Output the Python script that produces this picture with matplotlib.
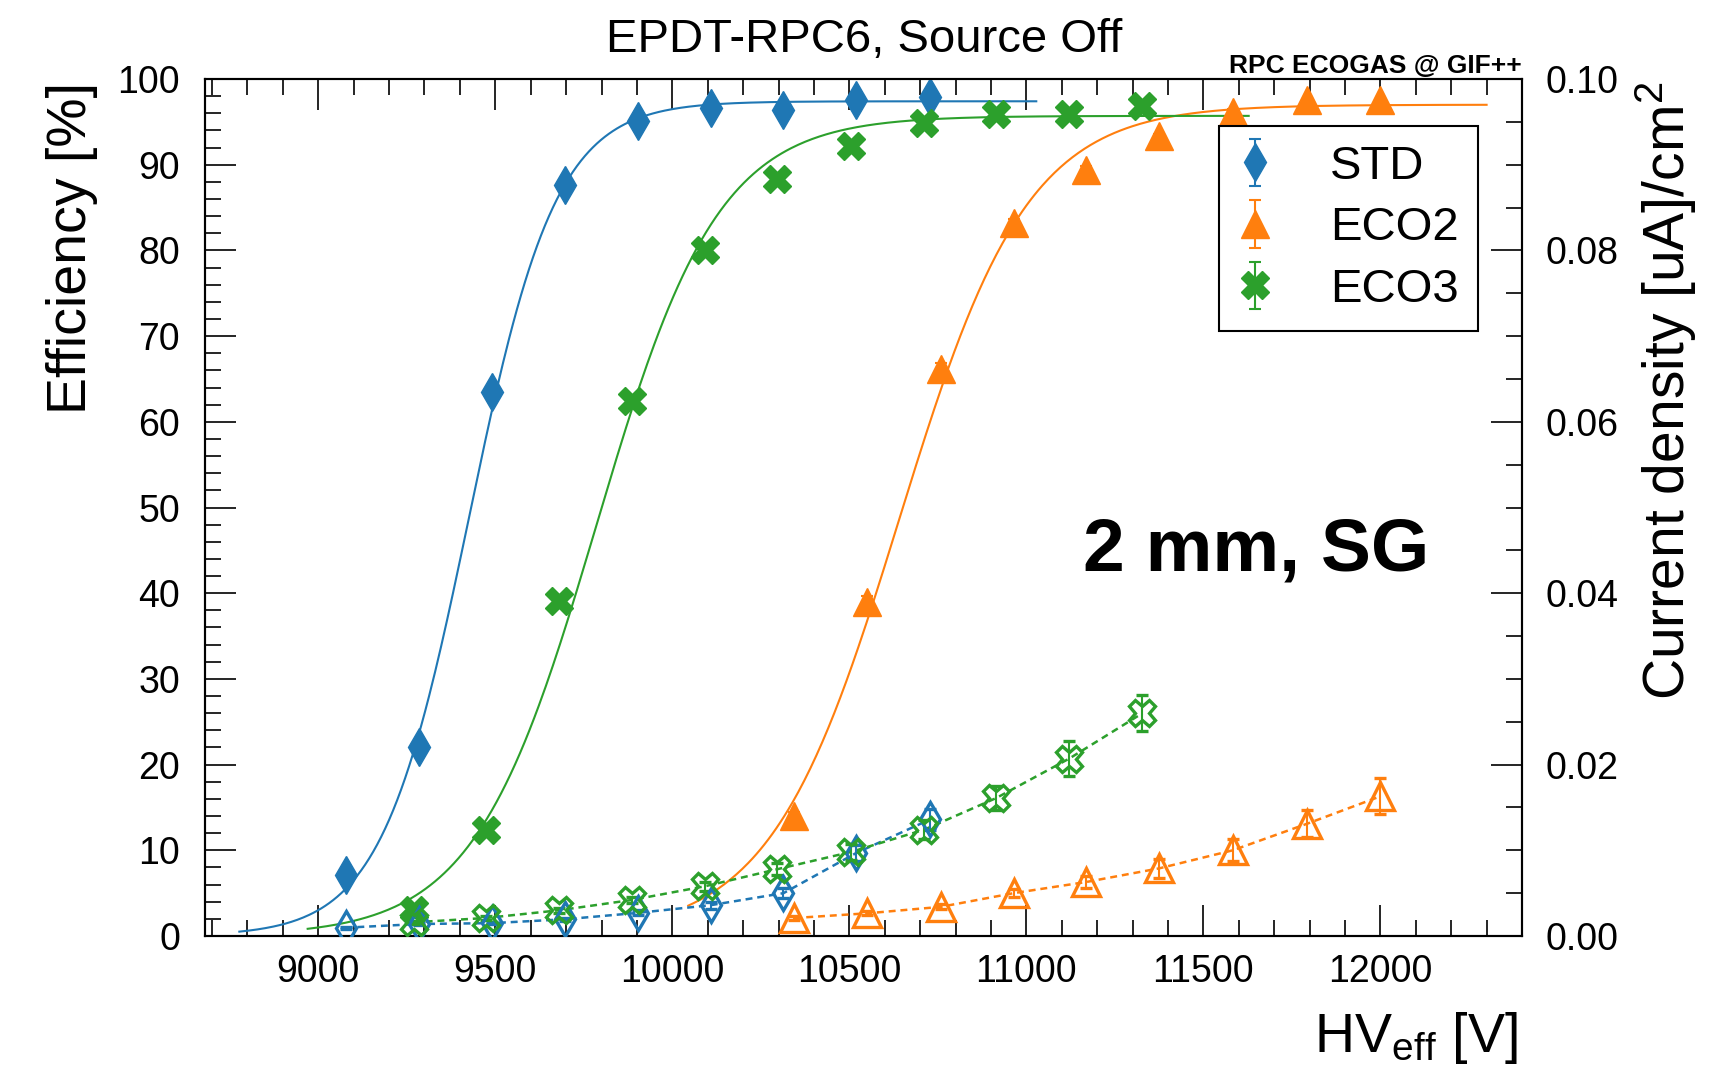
import numpy as np
import matplotlib.pyplot as plt
from matplotlib.ticker import MultipleLocator, FormatStrFormatter

plt.rcParams['font.family'] = ['Liberation Sans', 'DejaVu Sans']
plt.rcParams['mathtext.fontset'] = 'custom'
plt.rcParams['mathtext.rm'] = 'Liberation Sans'
plt.rcParams['mathtext.it'] = 'Liberation Sans:italic'
plt.rcParams['mathtext.bf'] = 'Liberation Sans:bold'
plt.rcParams['lines.scale_dashes'] = False

# HV_eff [V]
hv_std = [9077, 9284, 9490, 9696, 9903, 10109, 10314, 10520, 10728]
hv_eco2 = [10345, 10551, 10758, 10964, 11169, 11376, 11583, 11793, 12000]
hv_eco3 = [9270, 9473, 9680, 9885, 10092, 10297, 10504, 10711, 10915, 11121, 11328]

# efficiency [%]
eff_std = [7.1, 22.1, 63.5, 87.6, 95.1, 96.6, 96.4, 97.5, 97.9]
eff_eco2 = [14.0, 39.0, 66.2, 83.2, 89.4, 93.3, 96.2, 97.5, 97.5]
eff_eco3 = [3.0, 12.4, 39.1, 62.4, 80.0, 88.3, 92.2, 94.9, 95.9, 95.9, 96.9]
eff_err_std = [0.4, 0.6, 0.7, 0.5, 0.3, 0.3, 0.3, 0.2, 0.2]
eff_err_eco2 = [0.5, 0.7, 0.7, 0.5, 0.4, 0.3, 0.3, 0.2, 0.2]
eff_err_eco3 = [0.3, 0.5, 0.7, 0.7, 0.6, 0.4, 0.3, 0.3, 0.2, 0.2, 0.2]

# current density [uA/cm2]
cur_std = [0.00097, 0.0014, 0.0015, 0.00195, 0.0027, 0.0036, 0.0050, 0.0097, 0.0136]
cur_eco2 = [0.0021, 0.00265, 0.0034, 0.0050, 0.0063, 0.0079, 0.0100, 0.0131, 0.0163]
cur_eco3 = [0.0016, 0.0021, 0.0030, 0.0042, 0.0058, 0.0078, 0.0098, 0.0124, 0.0161, 0.0207, 0.0260]
cur_err_std = [0.0001, 0.0001, 0.00015, 0.0002, 0.0003, 0.0004, 0.0006, 0.0009, 0.0012]
cur_err_eco2 = [0.0002, 0.00025, 0.0003, 0.0005, 0.0007, 0.0011, 0.0013, 0.0016, 0.0021]
cur_err_eco3 = [0.00015, 0.0002, 0.0003, 0.0004, 0.0005, 0.0007, 0.0009, 0.0011, 0.0014, 0.0020, 0.0021]

# sigmoid fits: plateau, lambda, HV50, fit range
fit_std = [97.4, 0.0081, 9425]
fit_eco2 = [97.0, 0.0055, 10640]
fit_eco3 = [95.7, 0.0058, 9785]
range_std = [8777, 11028]
range_eco2 = [10045, 12300]
range_eco3 = [8970, 11628]

labels = ['STD', 'ECO2', 'ECO3']
colors = ['#1f77b4', '#ff7f0e', '#2ca02c']


def sigmoid(hv, pars):
    emax, lam, hv50 = pars
    return emax / (1 + np.exp(-lam * (hv - hv50)))


W, H = 1722, 1066
fig = plt.figure(figsize=(W / 100, H / 100), dpi=100)
L, R, T, B = 205, 1522, 79, 936
ax = fig.add_axes([L / W, 1 - B / H, (R - L) / W, (B - T) / H])
ax2 = ax.twinx()

series = [
    (hv_std, eff_std, eff_err_std, cur_std, cur_err_std, fit_std, range_std, 'd', 19.5, 17.5),
    (hv_eco2, eff_eco2, eff_err_eco2, cur_eco2, cur_err_eco2, fit_eco2, range_eco2, '^', 20, 19.5),
    (hv_eco3, eff_eco3, eff_err_eco3, cur_eco3, cur_err_eco3, fit_eco3, range_eco3, 'X', 20, 19),
]

handles = []
for (hv, eff, eerr, cur, cerr, pars, rng, mk, ms, ms_open), col, lab in zip(series, colors, labels):
    xx = np.linspace(rng[0], rng[1], 400)
    ax.plot(xx, sigmoid(xx, pars), color=col, lw=1.5, zorder=2)
    h = ax.errorbar(hv, eff, yerr=eerr, fmt=mk, color=col, ms=ms, mec=col, mfc=col,
                    elinewidth=1.5, capsize=4.3, capthick=1.5, zorder=3, label=lab)
    handles.append(h)

    ax2.plot(hv, cur, color=col, lw=1.8, dashes=(5, 3.5), zorder=2)
    ax2.errorbar(hv, cur, yerr=cerr, fmt=mk, color=col, ms=ms_open, mec=col, mfc='none',
                 mew=2.4, elinewidth=1.5, capsize=4.3, capthick=1.5, zorder=3)

ax.set_xlim(8680, 12400)
ax.set_ylim(0, 100)
ax2.set_ylim(0, 0.1)

ax.xaxis.set_major_locator(MultipleLocator(500))
ax.xaxis.set_minor_locator(MultipleLocator(100))
ax.yaxis.set_major_locator(MultipleLocator(10))
ax.yaxis.set_minor_locator(MultipleLocator(2))
ax2.yaxis.set_major_locator(MultipleLocator(0.02))
ax2.yaxis.set_minor_locator(MultipleLocator(0.005))
ax2.yaxis.set_major_formatter(FormatStrFormatter('%.2f'))

ax.tick_params(axis='x', which='both', direction='in', top=True, bottom=True)
ax.tick_params(axis='y', which='both', direction='in', left=True, right=False)
ax2.tick_params(axis='y', which='both', direction='in', right=True, left=False)
for a in (ax, ax2):
    a.tick_params(which='major', length=22.3, width=1.2, labelsize=27)
    a.tick_params(which='minor', length=11.2, width=1.2)
    for s in a.spines.values():
        s.set_linewidth(1.5)
ax.tick_params(axis='x', pad=13)
ax.tick_params(axis='y', pad=18)
ax2.tick_params(axis='y', pad=17)

leg = ax2.legend(handles, labels, loc='upper left', bbox_to_anchor=(0.770, 0.945),
                 fontsize=34, frameon=True, fancybox=False, framealpha=1,
                 edgecolor='black', borderpad=0.4, handlelength=0.73,
                 handletextpad=1.22, labelspacing=0.37, borderaxespad=0)
leg.get_frame().set_linewidth(1.5)

ax2.text(0.798, 0.449, '2 mm, SG', transform=ax2.transAxes, ha='center', va='center',
         fontsize=54, fontweight='bold')

fig.text(864 / W, 1 - 40 / H, 'EPDT-RPC6, Source Off', ha='center', va='center', fontsize=34)
fig.text(R / W, 1 - 73 / H, 'RPC ECOGAS @ GIF++', ha='right', va='baseline',
         fontsize=19, fontweight='bold')
fig.text(72 / W, 1 - 82 / H, 'Efficiency [%]', rotation=90, ha='center', va='top', fontsize=40)
fig.text(1666 / W, 1 - 82 / H, 'Current density [uA]/cm$^2$', rotation=90,
         ha='center', va='top', fontsize=41)
fig.text(1518 / W, 1 - 1052 / H, r'HV$_{\mathrm{eff}}$ [V]', ha='right', va='baseline', fontsize=40)

fig.savefig('out.png', dpi=100)
